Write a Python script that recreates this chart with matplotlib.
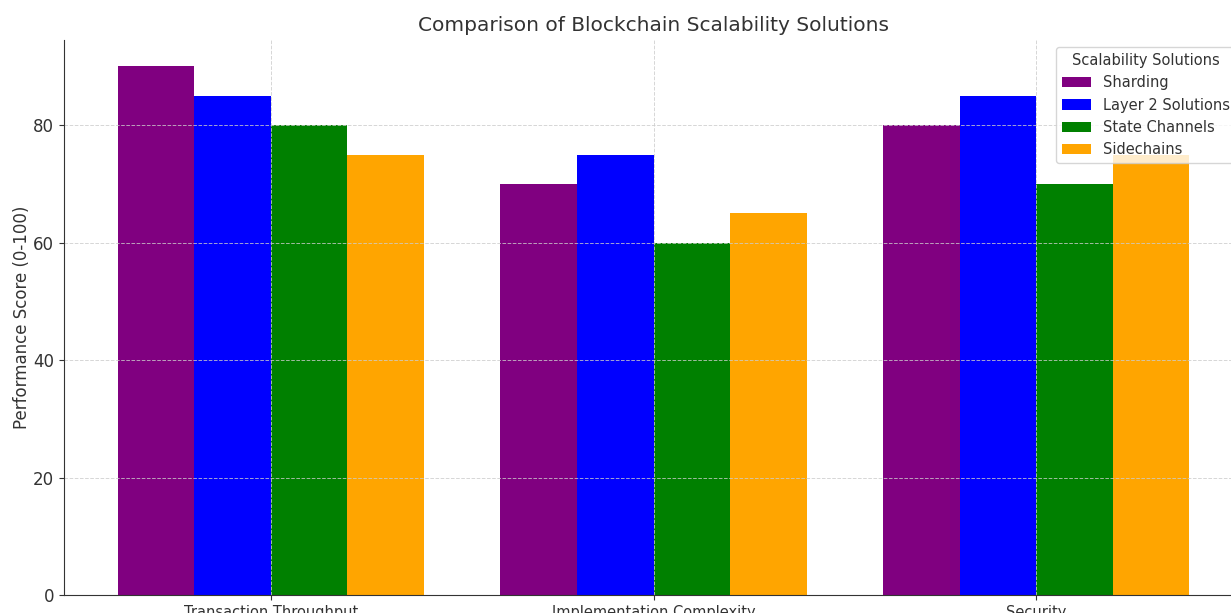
import matplotlib.pyplot as plt
import numpy as np

# Scores per criterion for each scalability approach
criteria = ["Transaction Throughput", "Implementation Complexity", "Security"]
solutions = ["Sharding", "Layer 2 Solutions", "State Channels", "Sidechains"]
sharding = [90, 70, 80]
layer2 = [85, 75, 85]
state_channels = [80, 60, 70]
sidechains = [75, 65, 75]
colors = ["purple", "blue", "green", "orange"]

text_color = "#333333"
plt.rcParams["text.color"] = text_color
plt.rcParams["axes.labelcolor"] = text_color
plt.rcParams["xtick.color"] = text_color
plt.rcParams["ytick.color"] = text_color

fig = plt.figure(figsize=(12.31, 6.13), dpi=100)
ax = fig.add_axes([64 / 1231, 18 / 613, 1179 / 1231, 555 / 613])

bar_width = 0.2
x = np.arange(len(criteria))
series = [sharding, layer2, state_channels, sidechains]
for i, (name, values) in enumerate(zip(solutions, series)):
    ax.bar(x + (i - 1.5) * bar_width, values, bar_width, label=name, color=colors[i])

ax.set_title("Comparison of Blockchain Scalability Solutions", fontsize=14.5, pad=6.5)
ax.set_ylabel("Performance Score (0-100)", fontsize=12, labelpad=1.5)
ax.set_xticks(x)
ax.set_xticklabels(criteria, fontsize=10.5)
ax.tick_params(axis="y", labelsize=12)

ax.grid(True, linestyle="--", linewidth=0.7, color="#cccccc", alpha=0.8)
ax.spines["top"].set_visible(False)
ax.spines["right"].set_visible(False)
ax.spines["left"].set_color("#333333")
ax.spines["bottom"].set_color("#333333")

ax.legend(title="Scalability Solutions", loc="upper right", fontsize=10.5, title_fontsize=10.5)

fig.savefig("out.png", dpi=100)
